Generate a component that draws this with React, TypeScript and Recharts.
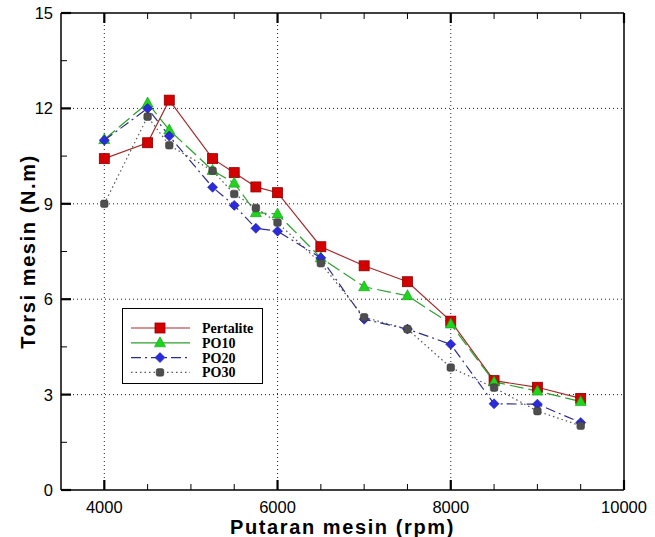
import React from "react";
import { LineChart, Line, XAxis, YAxis, ReferenceLine, Legend } from "recharts";

const rpm = [4000, 4500, 4750, 5250, 5500, 5750, 6000, 6500, 7000, 7500, 8000, 8500, 9000, 9500];
const pertalite = [10.42, 10.92, 12.26, 10.42, 9.98, 9.53, 9.35, 7.65, 7.05, 6.55, 5.31, 3.44, 3.23, 2.88];
const po10 = [11.02, 12.17, 11.32, 10.05, 9.65, 8.72, 8.68, 7.3, 6.39, 6.11, 5.22, 3.4, 3.11, 2.78];
const po20 = [11.0, 12.0, 11.13, 9.52, 8.95, 8.23, 8.14, 7.3, 5.37, 5.06, 4.58, 2.71, 2.7, 2.12];
const po30 = [9.0, 11.74, 10.84, 10.04, 9.31, 8.87, 8.41, 7.13, 5.43, 5.06, 3.85, 3.22, 2.48, 2.02];

const xTicks = [4000, 4500, 5000, 5500, 6000, 6500, 7000, 7500, 8000, 8500, 9000, 9500, 10000];
const xMajor = [4000, 6000, 8000, 10000];
const yTicks = [0, 1.5, 3, 4.5, 6, 7.5, 9, 10.5, 12, 13.5, 15];
const yMajor = [0, 3, 6, 9, 12, 15];
const xGrid = [4000, 6000, 8000];
const yGrid = [3, 6, 9, 12];

const data = rpm.map((r, i) => ({
  rpm: r,
  pertalite: pertalite[i],
  po10: po10[i],
  po20: po20[i],
  po30: po30[i],
}));

const tickFont = { fontFamily: "Liberation Sans, Arial, sans-serif", fontSize: 16.5, fill: "#000" };
const titleFont = {
  fontFamily: "Liberation Sans, Arial, sans-serif",
  fontSize: 20,
  fontWeight: 700,
  letterSpacing: 1.6,
  fill: "#000",
};

type Shape = "square" | "triangle" | "diamond" | "dot";

const Marker = ({ cx, cy, shape, fill, stroke }: { cx: number; cy: number; shape: Shape; fill: string; stroke: string }) => {
  if (cx == null || cy == null) return null;
  if (shape === "square")
    return <rect x={cx - 5} y={cy - 5} width={10} height={10} fill={fill} stroke={stroke} strokeWidth={0.8} />;
  if (shape === "triangle")
    return <polygon points={`${cx},${cy - 6} ${cx + 5.5},${cy + 4} ${cx - 5.5},${cy + 4}`} fill={fill} stroke={stroke} strokeWidth={0.6} />;
  if (shape === "diamond")
    return <polygon points={`${cx},${cy - 5} ${cx + 5},${cy} ${cx},${cy + 5} ${cx - 5},${cy}`} fill={fill} stroke={stroke} strokeWidth={0.6} />;
  return <rect x={cx - 3.8} y={cy - 3.8} width={7.6} height={7.6} rx={2} fill={fill} stroke={stroke} strokeWidth={0.5} />;
};

const series = [
  { key: "pertalite", name: "Pertalite", line: "#a52a2a", fill: "#d40000", edge: "#8a0000", dash: undefined, shape: "square" as Shape },
  { key: "po10", name: "PO10", line: "#2ea02e", fill: "#1ed41e", edge: "#0f9a0f", dash: "14 5", shape: "triangle" as Shape },
  { key: "po20", name: "PO20", line: "#2c2c8c", fill: "#2b2bdc", edge: "#1a1a9a", dash: "10 4 2 4", shape: "diamond" as Shape },
  { key: "po30", name: "PO30", line: "#555555", fill: "#4e4e4e", edge: "#333333", dash: "1.5 3", shape: "dot" as Shape },
];

// left axis: ticks point into the plot, labels only on the major values
const LeftTick = ({ x, y, payload }: any) => {
  const major = yMajor.includes(payload.value);
  return (
    <g>
      <line x1={x} x2={x + (major ? 10 : 6)} y1={y} y2={y} stroke="#000" strokeWidth={major ? 2.2 : 1} />
      {major && (
        <text x={x - 8} y={y + 6} textAnchor="end" {...tickFont}>
          {payload.value}
        </text>
      )}
    </g>
  );
};

const RightTick = ({ x, y, payload }: any) => {
  const major = yMajor.includes(payload.value);
  return <line x1={x} x2={x - (major ? 10 : 6)} y1={y} y2={y} stroke="#000" strokeWidth={major ? 2.2 : 1} />;
};

const BottomTick = ({ x, y, payload }: any) => {
  const major = xMajor.includes(payload.value);
  return (
    <g>
      <line x1={x} x2={x} y1={y} y2={y - (major ? 10 : 6)} stroke="#000" strokeWidth={major ? 2.2 : 1} />
      {major && (
        <text x={x} y={y + 22.5} textAnchor="middle" {...tickFont}>
          {payload.value}
        </text>
      )}
    </g>
  );
};

const TopTick = ({ x, y, payload }: any) => {
  const major = xMajor.includes(payload.value);
  return <line x1={x} x2={x} y1={y} y2={y + (major ? 10 : 6)} stroke="#000" strokeWidth={major ? 2.2 : 1} />;
};

const LegendBox = () => (
  <svg width={141} height={76} style={{ display: "block" }}>
    <rect x={0.5} y={0.5} width={140} height={75} fill="#fff" stroke="#000" strokeWidth={1} />
    {series.map((s, i) => {
      const cy = 20 + i * 14.8;
      return (
        <g key={s.key}>
          <line x1={9} x2={68} y1={cy} y2={cy} stroke={s.line} strokeWidth={1.2} strokeDasharray={s.key === "po30" ? "1.5 3" : s.key === "po20" ? "10 4 2 4" : undefined} />
          <Marker cx={38} cy={cy} shape={s.shape} fill={s.fill} stroke={s.edge} />
          <text x={80} y={cy + 5} fontFamily="Liberation Serif, Times New Roman, serif" fontWeight={700} fontSize={14} fill="#000">
            {s.name}
          </text>
        </g>
      );
    })}
  </svg>
);

export default function App() {
  return (
    <div style={{ position: "absolute", left: 0, top: 0, width: 655, height: 537, background: "#fff" }}>
      <LineChart width={655} height={537} data={data} margin={{ top: 0, right: 0, bottom: 0, left: 0 }}>
        <XAxis
          xAxisId="b"
          dataKey="rpm"
          type="number"
          domain={[3500, 10000]}
          ticks={xTicks}
          interval={0}
          height={47}
          tickSize={0}
          tickMargin={0}
          tickLine={false}
          tick={<BottomTick />}
          axisLine={{ stroke: "#000", strokeWidth: 1.5 }}
          label={{
            content: (p: any) => (
              <text x={p.viewBox.x + p.viewBox.width / 2} y={534} textAnchor="middle" {...titleFont}>
                Putaran mesin (rpm)
              </text>
            ),
          }}
        />
        <XAxis
          xAxisId="t"
          orientation="top"
          dataKey="rpm"
          type="number"
          domain={[3500, 10000]}
          ticks={xTicks}
          interval={0}
          height={13}
          tickSize={0}
          tickMargin={0}
          tickLine={false}
          tick={<TopTick />}
          axisLine={{ stroke: "#000", strokeWidth: 1.5 }}
        />
        <YAxis
          yAxisId="l"
          type="number"
          domain={[0, 15]}
          ticks={yTicks}
          interval={0}
          width={61}
          tickSize={0}
          tickMargin={0}
          tickLine={false}
          tick={<LeftTick />}
          axisLine={{ stroke: "#000", strokeWidth: 1.5 }}
          label={{
            content: (p: any) => {
              const cy = p.viewBox.y + p.viewBox.height / 2;
              return (
                <text transform={`translate(35, ${cy}) rotate(-90)`} textAnchor="middle" {...titleFont}>
                  Torsi mesin (N.m)
                </text>
              );
            },
          }}
        />
        <YAxis
          yAxisId="r"
          orientation="right"
          type="number"
          domain={[0, 15]}
          ticks={yTicks}
          interval={0}
          width={31}
          tickSize={0}
          tickMargin={0}
          tickLine={false}
          tick={<RightTick />}
          axisLine={{ stroke: "#000", strokeWidth: 1.5 }}
        />
        {xGrid.map((v) => (
          <ReferenceLine key={`gx${v}`} xAxisId="b" yAxisId="l" x={v} stroke="#222" strokeDasharray="1 3" />
        ))}
        {yGrid.map((v) => (
          <ReferenceLine key={`gy${v}`} xAxisId="b" yAxisId="l" y={v} stroke="#222" strokeDasharray="1 3" />
        ))}
        {series.map((s) => (
          <Line
            key={s.key}
            xAxisId="b"
            yAxisId="l"
            type="linear"
            dataKey={s.key}
            name={s.name}
            stroke={s.line}
            strokeWidth={1.2}
            strokeDasharray={s.dash}
            dot={(p: any) => <Marker key={`${s.key}-${p.index}`} cx={p.cx} cy={p.cy} shape={s.shape} fill={s.fill} stroke={s.edge} />}
            activeDot={false}
            isAnimationActive={false}
          />
        ))}
        {/* middle/center alignment keeps the legend from reserving space in the plot offset */}
        <Legend
          layout="horizontal"
          verticalAlign="middle"
          align="center"
          content={<LegendBox />}
          wrapperStyle={{ left: 122, top: 308, width: 141, height: 76, bottom: "auto", right: "auto" }}
        />
      </LineChart>
    </div>
  );
}
